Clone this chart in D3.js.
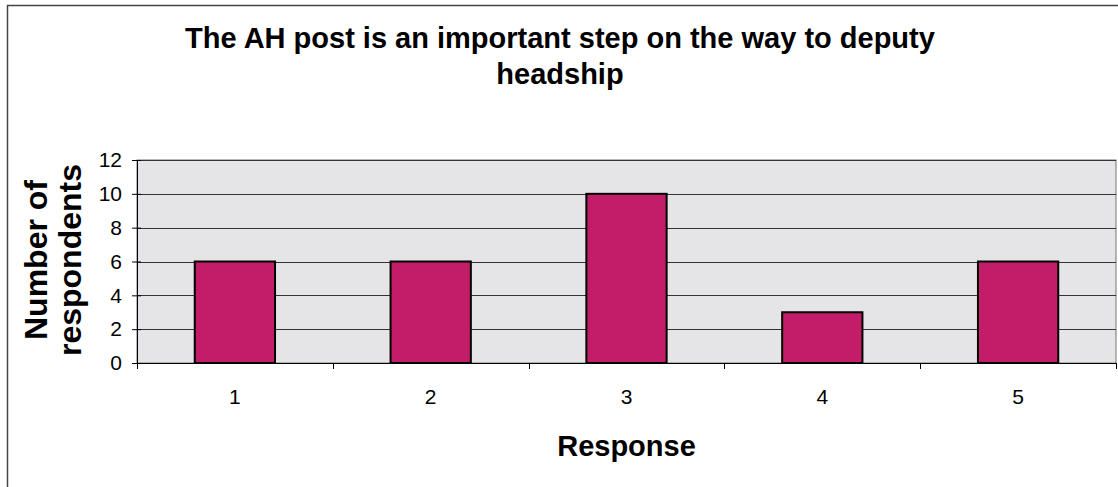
<!DOCTYPE html>
<html>
<head>
<meta charset="utf-8">
<script src="https://cdn.jsdelivr.net/npm/d3@7"></script>
<style>
  html, body { margin: 0; padding: 0; background: #fff; }
  svg { display: block; }
  text { font-family: "Liberation Sans", Arial, sans-serif; fill: #000; }
</style>
</head>
<body>
<svg id="chart" width="1118" height="487"></svg>
<script>
const categories = ["1", "2", "3", "4", "5"];
const values = [6, 6, 10, 3, 6];
const yTicks = [0, 2, 4, 6, 8, 10, 12];
const titleLines = ["The AH post is an important step on the way to deputy", "headship"];
const yTitleLines = ["Number of", "respondents"];
const xTitle = "Response";

const W = 1118, H = 487;
const plot = { left: 137, right: 1116, top: 160, bottom: 363 };

const svg = d3.select("#chart");

// outer frame (top and left edges visible)
svg.append("path")
  .attr("d", `M7.5,${H} L7.5,5.5 L${W},5.5`)
  .attr("fill", "none").attr("stroke", "#444").attr("stroke-width", 1.5);

const x = d3.scaleBand().domain(categories).range([plot.left, plot.right]).padding(0);
const y = d3.scaleLinear().domain([0, 12]).range([plot.bottom, plot.top]);

// plot background
svg.append("rect")
  .attr("x", plot.left).attr("y", plot.top)
  .attr("width", plot.right - plot.left).attr("height", plot.bottom - plot.top)
  .attr("fill", "#e5e5e7").attr("stroke", "#777").attr("stroke-width", 1);

// gridlines
svg.append("g").selectAll("line").data(yTicks.filter(d => d > 0)).join("line")
  .attr("x1", plot.left).attr("x2", plot.right)
  .attr("y1", d => Math.round(y(d)) + 0.5).attr("y2", d => Math.round(y(d)) + 0.5)
  .attr("stroke", "#333").attr("stroke-width", 1);

// bars
const barFrac = 0.41;
svg.append("g").selectAll("rect").data(values).join("rect")
  .attr("x", (d, i) => x(categories[i]) + x.bandwidth() * (1 - barFrac) / 2)
  .attr("width", x.bandwidth() * barFrac)
  .attr("y", d => y(d))
  .attr("height", d => y(0) - y(d))
  .attr("fill", "#c21d68")
  .attr("stroke", "#000").attr("stroke-width", 2);

// y axis
const yAxis = svg.append("g").attr("transform", `translate(${plot.left},0)`)
  .call(d3.axisLeft(y).tickValues(yTicks).tickSize(5).tickPadding(10).tickFormat(d3.format("d")));
yAxis.attr("font-size", null).attr("font-family", null);
yAxis.select(".domain").attr("stroke", "#000");
yAxis.selectAll(".tick line").attr("stroke", "#000").attr("x2", -5).attr("x1", 4);
yAxis.selectAll(".tick text").style("font-size", "21px").style("font-family", "'Liberation Sans', Arial, sans-serif");

// x axis
const xAxis = svg.append("g").attr("transform", `translate(0,${plot.bottom})`)
  .call(d3.axisBottom(x).tickSize(0).tickPadding(26));
xAxis.attr("font-size", null).attr("font-family", null);
xAxis.select(".domain").attr("stroke", "#000");
xAxis.selectAll(".tick text").style("font-size", "21px").style("font-family", "'Liberation Sans', Arial, sans-serif");
// boundary ticks
const bounds = categories.map(c => x(c)).concat([x(categories[categories.length - 1]) + x.bandwidth()]);
xAxis.append("g").selectAll("line").data(bounds).join("line")
  .attr("x1", d => Math.round(d) + 0.5).attr("x2", d => Math.round(d) + 0.5)
  .attr("y1", 0).attr("y2", 6).attr("stroke", "#000");

// title
svg.append("g").selectAll("text").data(titleLines).join("text")
  .attr("x", 560).attr("y", (d, i) => 48 + i * 36)
  .attr("text-anchor", "middle")
  .style("font-size", "29px").attr("font-weight", "bold")
  .text(d => d);

// x title
svg.append("text")
  .attr("x", (plot.left + plot.right) / 2).attr("y", 456)
  .attr("text-anchor", "middle")
  .style("font-size", "29px").attr("font-weight", "bold")
  .text(xTitle);

// y title
svg.append("g").selectAll("text").data(yTitleLines).join("text")
  .attr("transform", (d, i) => `translate(${47 + i * 34},260) rotate(-90)`)
  .attr("text-anchor", "middle")
  .style("font-size", "32px").attr("font-weight", "bold")
  .text(d => d);
</script>
</body>
</html>
